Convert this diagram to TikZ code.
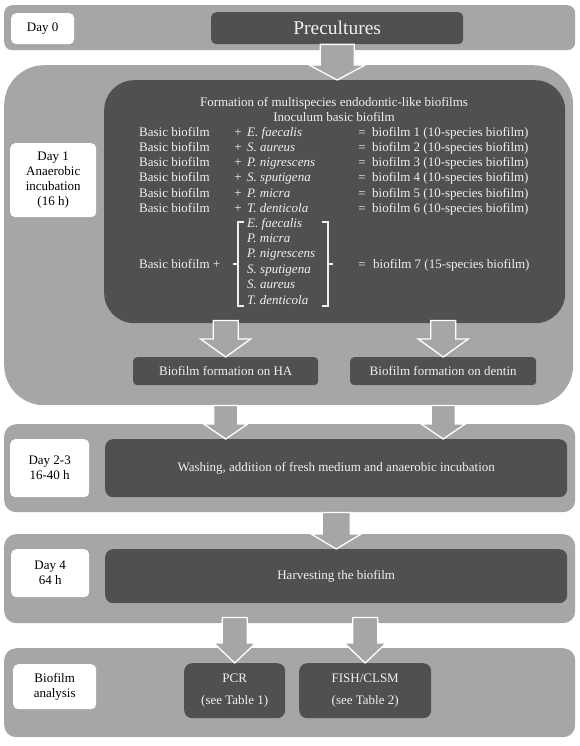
\documentclass[tikz,border=0pt]{standalone}
\usepackage{fontspec}
\setmainfont{Liberation Serif}
\usetikzlibrary{calc}

\definecolor{bandgray}{HTML}{A6A6A6}
\definecolor{boxgray}{HTML}{505050}
\definecolor{paletext}{HTML}{F0F0F0}

\tikzset{
  band/.style={fill=bandgray, anchor=north west, inner sep=0pt},
  daybox/.style={fill=white, rounded corners=5pt, anchor=north west, align=center, inner sep=0pt, text=black},
  darkbox/.style={fill=boxgray, anchor=north west, inner sep=0pt, align=center, text=paletext},
  txt/.style={text=paletext, inner sep=0pt},
  fatarrow/.style={fill=bandgray, draw=white, line width=1.3pt, line join=miter},
  bracket/.style={draw=paletext, line width=1.1pt},
}

% block arrow: start, tip, node giving x, shaft half width, head half width, head length
\newcommand\fatarrow[6]{%
  \draw[fatarrow] let \p1=(#1), \p2=(#2), \p3=(#3) in
    (\x3-#4pt,\y1) -- (\x3-#4pt,\y2+#6pt) -- (\x3-#5pt,\y2+#6pt) -- (\x3,\y2)
    -- (\x3+#5pt,\y2+#6pt) -- (\x3+#4pt,\y2+#6pt) -- (\x3+#4pt,\y1) -- cycle;}

\begin{document}
\begin{tikzpicture}[x=1pt,y=-1pt,font=\fontsize{13}{15}\selectfont]
\useasboundingbox (0,0) rectangle (579,746);

% day 0
\node[band, rounded corners=8pt, minimum width=571pt, minimum height=45pt] (band0) at (4,5) {};
\node[daybox, minimum width=63pt, minimum height=31pt] (day0) at (11,13) {Day 0};
\node[darkbox, rounded corners=5pt, minimum width=252pt, minimum height=32pt,
      font=\fontsize{19.5}{22}\selectfont] (pre) at (211,12) {Precultures};

% day 1
\node[band, rounded corners=40pt, minimum width=569pt, minimum height=340pt] (band1) at (4,65) {};
\node[darkbox, rounded corners=30pt, minimum width=461pt, minimum height=243pt] (inner) at (104,80) {};
\node[daybox, minimum width=86pt, minimum height=74pt] (day1) at (10,143)
  {Day 1\\Anaerobic\\incubation\\(16 h)};

\node[txt, anchor=base] (title) at (334,107) {Formation of multispecies endodontic-like biofilms};
\node[txt, anchor=base] (inoc) at (334,122) {Inoculum basic biofilm};
\foreach \sp [count=\i] in {E. faecalis, S. aureus, P. nigrescens, S. sputigena, P. micra, T. denticola}{
  \node[txt, anchor=base west] (basic\i) at (139,{122+15*\i}) {Basic biofilm};
  \node[txt, anchor=base] (plus\i) at (238,{122+15*\i}) {+};
  \node[txt, anchor=base west] (sp\i) at (247,{122+15*\i}) {\textit{\sp}};
  \node[txt, anchor=base] (eq\i) at (362,{122+15*\i}) {=};
  \node[txt, anchor=base west] (res\i) at (372,{122+15*\i}) {biofilm \i{} (10-species biofilm)};
}
\node[txt, anchor=base west] (basicall) at (139,268) {Basic biofilm +};
\foreach \sp [count=\i] in {E. faecalis, P. micra, P. nigrescens, S. sputigena, S. aureus, T. denticola}
  \node[txt, anchor=base west] (mix\i) at (247,{211.6+15.4*\i}) {\textit{\sp}};
\draw[bracket] (244,222) -- (238,222) -- (238,306) -- (244,306) (238,264) -- (233,264);
\draw[bracket] (322,222) -- (328,222) -- (328,306) -- (322,306) (328,264) -- (333,264);
\node[txt, anchor=base] (eqall) at (362,268) {=};
\node[txt, anchor=base west] (resall) at (373,268) {biofilm 7 (15-species biofilm)};

\node[darkbox, rounded corners=4pt, minimum width=185pt, minimum height=28pt] (ha) at (133,357) {Biofilm formation on HA};
\node[darkbox, rounded corners=4pt, minimum width=186pt, minimum height=28pt] (dentin) at (350,357) {Biofilm formation on dentin};

% day 2-3
\node[band, rounded corners=12pt, minimum width=571pt, minimum height=88pt] (band2) at (4,424) {};
\node[daybox, minimum width=79pt, minimum height=58pt] (day23) at (10,439) {Day 2-3\\16-40 h};
\node[darkbox, rounded corners=8pt, minimum width=462pt, minimum height=58pt] (wash) at (105,439)
  {Washing, addition of fresh medium and anaerobic incubation};

% day 4
\node[band, rounded corners=12pt, minimum width=571pt, minimum height=89pt] (band3) at (4,534) {};
\node[daybox, minimum width=78pt, minimum height=48pt] (day4) at (11,549) {Day 4\\64 h};
\node[darkbox, rounded corners=8pt, minimum width=462pt, minimum height=54pt] (harvest) at (105,549)
  {Harvesting the biofilm};

% analysis
\node[band, rounded corners=12pt, minimum width=571pt, minimum height=89pt] (band4) at (4,648) {};
\node[daybox, minimum width=83pt, minimum height=45pt] (analysis) at (13,664) {Biofilm\\analysis};
\node[darkbox, rounded corners=8pt, minimum width=101pt, minimum height=55pt] (pcr) at (184,663)
  {PCR\\[7pt](see Table 1)};
\node[darkbox, rounded corners=8pt, minimum width=132pt, minimum height=55pt] (fish) at (299,663)
  {FISH/CLSM\\[7pt](see Table 2)};

% arrows
\fatarrow{pre.south}{inner.north}{pre.south}{17}{28}{15}
\fatarrow{$(inner.south)+(0,-3)$}{ha.north}{ha.north}{12.5}{25}{18}
\fatarrow{$(inner.south)+(0,-3)$}{dentin.north}{dentin.north}{12.5}{25}{18}
\fatarrow{band1.south}{wash.north}{ha.north}{12}{22}{15}
\fatarrow{band1.south}{wash.north}{dentin.north}{12}{22}{15}
\fatarrow{band2.south}{harvest.north}{wash.north}{14}{25}{15}
\fatarrow{$(band3.south)+(0,-6)$}{pcr.north}{pcr.north}{12.5}{21}{20}
\fatarrow{$(band3.south)+(0,-6)$}{fish.north}{fish.north}{12.5}{21}{20}
\end{tikzpicture}
\end{document}
